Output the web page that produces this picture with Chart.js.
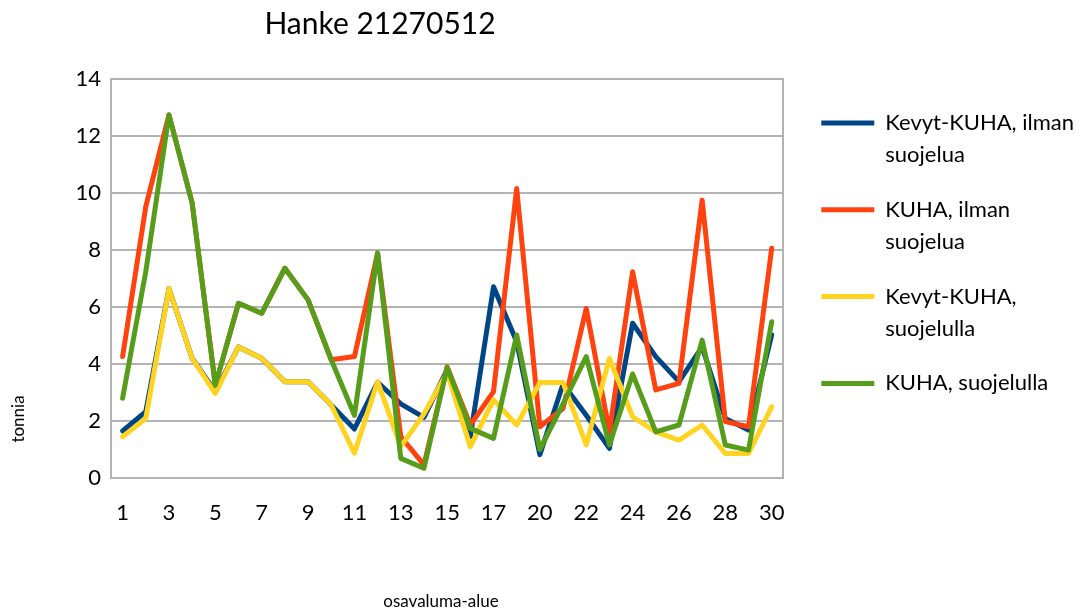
<!DOCTYPE html>
<html>
<head>
<meta charset="utf-8">
<script src="https://cdn.jsdelivr.net/npm/chart.js@4/dist/chart.umd.min.js"></script>
<style>
html,body{margin:0;padding:0;background:#ffffff;}
#wrap{position:relative;width:1089px;height:613px;}
</style>
</head>
<body>
<div id="wrap"><canvas id="c" width="1089" height="613"></canvas></div>
<script>
const chartTitle = 'Hanke 21270512';
const xTitle = 'osavaluma-alue';
const yTitle = 'tonnia';
const categories = ['1','2','3','4','5','6','7','8','9','10','11','12','13','14','15','16','17','18','20','21','22','23','24','25','26','27','28','29','30'];
const yTicks = [0, 2, 4, 6, 8, 10, 12, 14];
const seriesNames = [
  ['Kevyt-KUHA, ilman', 'suojelua'],
  ['KUHA, ilman', 'suojelua'],
  ['Kevyt-KUHA,', 'suojelulla'],
  'KUHA, suojelulla'
];
const kevytIlman = [1.65, 2.33, 6.65, 4.2, 3.03, 4.6, 4.2, 3.38, 3.38, 2.56, 1.72, 3.36, 2.6, 2.13, 3.8, 1.45, 6.71, 4.78, 0.82, 3.3, 2.2, 1.04, 5.43, 4.26, 3.38, 4.6, 2.09, 1.68, 5.02];
const kuhaIlman = [4.26, 9.52, 12.74, 9.65, 3.26, 6.13, 5.78, 7.36, 6.25, 4.15, 4.26, 7.88, 1.45, 0.46, 3.9, 1.86, 3.03, 10.16, 1.8, 2.44, 5.95, 1.62, 7.24, 3.09, 3.32, 9.75, 1.98, 1.8, 8.06];
const kevytSuojelulla = [1.45, 2.09, 6.65, 4.2, 2.97, 4.6, 4.2, 3.38, 3.38, 2.56, 0.87, 3.38, 1.1, 2.25, 3.7, 1.1, 2.74, 1.86, 3.35, 3.35, 1.16, 4.2, 2.15, 1.62, 1.33, 1.86, 0.86, 0.86, 2.5];
const kuhaSuojelulla = [2.8, 7.24, 12.74, 9.65, 3.26, 6.13, 5.78, 7.36, 6.25, 4.15, 2.2, 7.9, 0.69, 0.34, 3.88, 1.74, 1.39, 5.02, 1.0, 2.6, 4.26, 1.16, 3.65, 1.62, 1.86, 4.84, 1.16, 0.98, 5.48];
const seriesColors = ['#004586', '#ff420e', '#ffd320', '#579d1c'];

const FONT = 'Lato, "Open Sans", "Noto Sans", sans-serif';
const gridColor = '#b3b3b3';

const allSeries = [kevytIlman, kuhaIlman, kevytSuojelulla, kuhaSuojelulla];
const datasets = allSeries.map((vals, i) => ({
  label: Array.isArray(seriesNames[i]) ? seriesNames[i].join(' ') : seriesNames[i],
  data: vals,
  borderColor: seriesColors[i],
  backgroundColor: seriesColors[i],
  borderWidth: 5,
  pointRadius: 0,
  pointHoverRadius: 0,
  tension: 0,
  borderJoinStyle: 'round',
  borderCapStyle: 'round',
  order: 4 - i
}));

const textPlugin = {
  id: 'textPlugin',
  afterDraw(chart) {
    const ctx = chart.ctx;
    ctx.save();
    ctx.fillStyle = '#000000';
    ctx.textAlign = 'center';
    ctx.textBaseline = 'middle';
    ctx.font = '30px ' + FONT;
    ctx.fillText(chartTitle, 380, 24);
    ctx.font = '17px ' + FONT;
    ctx.fillText(xTitle, 441, 602);
    ctx.translate(19, 419);
    ctx.rotate(-Math.PI / 2);
    ctx.fillText(yTitle, 0, 0);
    ctx.restore();
  }
};

new Chart(document.getElementById('c'), {
  type: 'line',
  data: { labels: categories, datasets },
  options: {
    responsive: false,
    animation: false,
    events: [],
    layout: { padding: { top: 79, left: 0, right: 5, bottom: 0 } },
    plugins: {
      title: { display: false },
      tooltip: { enabled: false },
      legend: {
        display: true,
        position: 'right',
        align: 'start',
        maxWidth: 400,
        title: { display: true, text: ' ', font: { size: 10, lineHeight: 1 }, padding: 0 },
        labels: {
          color: '#000000',
          font: { family: FONT, size: 22, lineHeight: 1.45 },
          boxWidth: 53,
          boxHeight: 5,
          padding: 23,
          useBorderRadius: true,
          borderRadius: 2.5,
          generateLabels(chart) {
            return chart.data.datasets.map((ds, i) => ({
              text: seriesNames[i],
              fillStyle: seriesColors[i],
              strokeStyle: seriesColors[i],
              lineWidth: 0,
              hidden: false,
              datasetIndex: i,
              fontColor: '#000000'
            }));
          }
        }
      }
    },
    scales: {
      x: {
        offset: true,
        grid: { display: false, drawTicks: false },
        border: { display: true, color: gridColor, width: 2 },
        ticks: {
          autoSkip: false,
          maxRotation: 0,
          color: '#000000',
          font: { family: FONT, size: 22 },
          padding: 22,
          callback(value, index) { return index % 2 === 0 ? categories[index] : ''; }
        },
        afterFit(scale) { scale.height = 135; }
      },
      y: {
        min: 0,
        max: 14,
        afterBuildTicks(scale) { scale.ticks = yTicks.map(v => ({ value: v })); },
        grid: { color: gridColor, lineWidth: 2, drawTicks: false },
        border: { display: true, color: gridColor, width: 2 },
        ticks: {
          color: '#000000',
          font: { family: FONT, size: 22 },
          padding: 10
        },
        afterFit(scale) { scale.width = 111; }
      },
      y2: {
        position: 'right',
        min: 0,
        max: 14,
        grid: { display: false, drawTicks: false },
        border: { display: true, color: gridColor, width: 2 },
        ticks: { display: false },
        afterFit(scale) { scale.width = 15; }
      }
    }
  },
  plugins: [textPlugin]
});
</script>
</body>
</html>
